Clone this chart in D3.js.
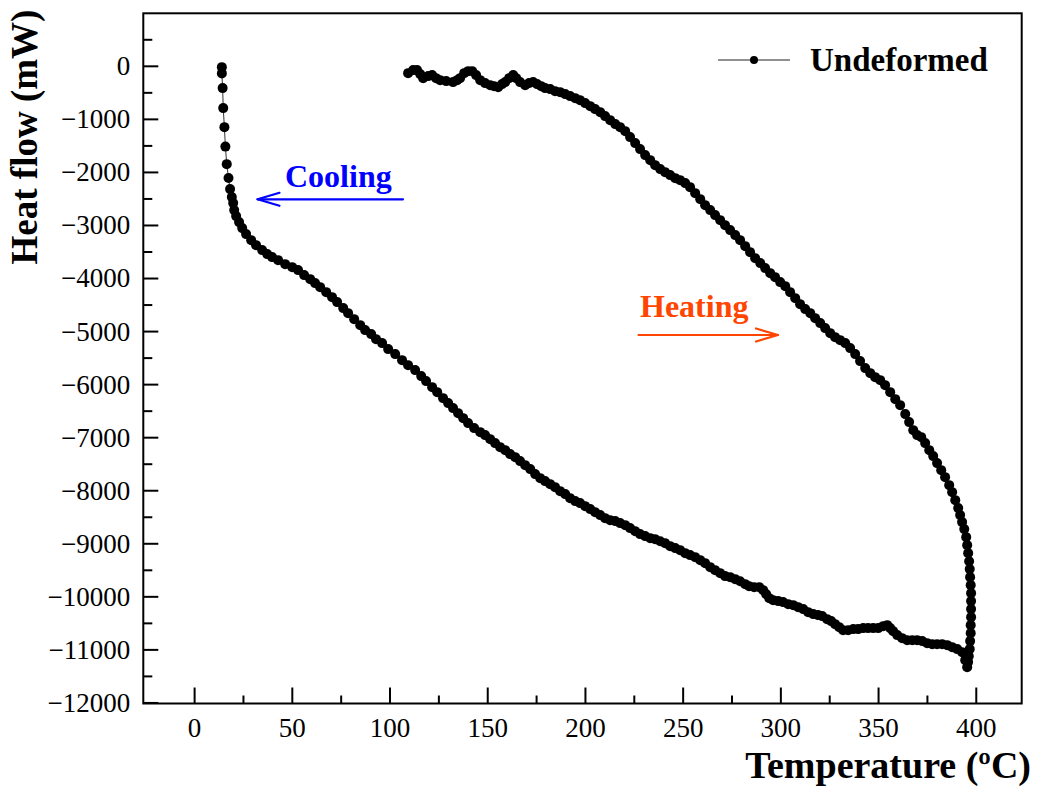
<!DOCTYPE html>
<html>
<head>
<meta charset="utf-8">
<script src="https://cdn.jsdelivr.net/npm/d3@7"></script>
<style>
  body { margin: 0; background: #fff; }
  svg { display: block; }
  text { font-family: "Liberation Serif", "Times New Roman", serif; }
</style>
</head>
<body>
<svg id="chart" width="1040" height="791"></svg>
<script>
// DSC run of the undeformed sample: heating segment followed by cooling segment
const temperature = [
  109.5,112.1,114.1,115.7,117.2,119.8,121.8,123.8,125.9,129.0,
  132.5,134.6,136.1,138.2,140.2,142.3,144.3,146.4,148.9,151.5,
  153.5,155.6,157.6,159.2,161.2,163.3,164.8,166.8,169.4,171.4,
  173.5,175.5,177.6,179.6,182.2,184.7,187.3,189.9,192.4,195.0,
  197.5,200.1,202.7,205.2,207.8,210.3,212.9,215.5,218.0,220.6,
  223.1,225.7,228.2,230.8,233.4,235.9,238.5,241.0,243.6,246.2,
  248.7,251.3,253.8,256.4,259.0,261.5,264.1,266.6,269.2,271.7,
  274.3,276.9,279.4,282.0,284.5,287.1,289.7,292.2,294.8,297.3,
  299.9,302.5,305.0,307.6,310.1,312.7,315.3,317.8,320.4,322.9,
  325.5,328.0,330.6,333.2,335.7,338.3,340.8,343.4,346.0,348.5,
  351.1,353.6,356.2,358.8,361.3,363.9,365.9,368.0,370.0,372.1,
  374.1,376.2,378.2,380.2,382.3,384.3,386.4,387.9,389.5,391.0,
  392.0,393.0,394.1,395.1,395.6,396.1,396.6,396.9,397.1,397.4,
  397.6,397.6,397.6,397.6,397.4,397.4,397.1,396.9,396.4,396.1,
  395.6,
  394.6,393.0,390.5,387.9,385.4,382.8,380.2,377.7,375.1,372.6,
  370.0,367.5,364.9,362.3,359.8,357.7,356.2,354.7,352.6,350.1,
  347.5,344.9,342.4,339.8,337.3,334.7,332.1,330.1,328.0,326.0,
  323.9,321.4,319.3,316.8,314.2,311.7,309.1,306.6,304.0,301.4,
  298.9,296.3,294.3,292.7,291.2,289.2,286.6,284.0,282.0,279.4,
  276.9,274.3,271.7,269.2,266.6,264.1,261.5,259.0,256.4,253.8,
  251.3,248.7,246.2,243.6,241.0,238.5,235.9,233.4,230.8,228.2,
  225.7,223.1,220.6,218.0,215.5,212.9,210.3,207.8,205.2,202.7,
  200.1,197.5,195.0,192.4,189.9,187.3,184.7,182.2,179.6,177.1,
  174.5,172.0,169.4,166.8,164.3,161.7,159.2,156.6,154.0,151.5,
  148.9,146.4,143.3,140.2,137.7,135.1,132.5,130.0,127.4,124.4,
  121.8,118.7,116.2,113.1,109.5,106.4,102.9,99.3,96.2,93.1,
  90.6,87.5,85.0,81.9,78.8,76.3,73.2,70.6,67.6,64.5,
  61.9,59.4,56.3,53.2,50.2,46.6,43.0,39.9,37.4,34.8,
  31.7,29.2,26.6,24.6,23.0,21.5,20.5,20.0,19.3,18.4,
  17.6,16.7,16.0,15.5,14.9,14.6,14.2,14.2
];

const heatFlow = [
  -138,-81,-81,-156,-232,-194,-175,-232,-270,-288,
  -307,-270,-232,-138,-100,-100,-175,-270,-326,-364,
  -383,-402,-345,-307,-232,-175,-232,-307,-364,-326,
  -307,-345,-383,-420,-439,-477,-496,-533,-571,-609,
  -647,-703,-760,-816,-873,-948,-1024,-1099,-1156,-1231,
  -1344,-1457,-1570,-1683,-1778,-1872,-1947,-2004,-2060,-2117,
  -2155,-2211,-2287,-2400,-2513,-2626,-2720,-2814,-2909,-3003,
  -3097,-3191,-3286,-3399,-3512,-3625,-3719,-3813,-3908,-3983,
  -4077,-4153,-4266,-4379,-4492,-4586,-4662,-4756,-4850,-4944,
  -5039,-5114,-5171,-5227,-5321,-5434,-5566,-5698,-5793,-5868,
  -5925,-6019,-6151,-6283,-6396,-6565,-6716,-6867,-6961,-6999,
  -7112,-7244,-7357,-7489,-7621,-7753,-7904,-8036,-8187,-8337,
  -8469,-8601,-8733,-8884,-9035,-9186,-9337,-9487,-9638,-9789,
  -9940,-10090,-10241,-10392,-10543,-10694,-10844,-10995,-11127,-11240,
  -11335,
  -11203,-11052,-10995,-10958,-10920,-10901,-10901,-10901,-10882,-10844,
  -10826,-10826,-10826,-10788,-10731,-10656,-10599,-10543,-10562,-10599,
  -10599,-10599,-10599,-10618,-10618,-10637,-10637,-10581,-10524,-10467,
  -10430,-10373,-10354,-10335,-10298,-10241,-10204,-10166,-10147,-10109,
  -10090,-10072,-10034,-9958,-9883,-9827,-9827,-9808,-9770,-9714,
  -9676,-9638,-9619,-9563,-9506,-9450,-9374,-9318,-9261,-9223,
  -9186,-9129,-9091,-9054,-8997,-8960,-8922,-8903,-8865,-8827,
  -8771,-8714,-8658,-8620,-8582,-8564,-8526,-8469,-8413,-8356,
  -8300,-8243,-8205,-8149,-8073,-8017,-7942,-7885,-7828,-7772,
  -7696,-7602,-7527,-7451,-7376,-7319,-7244,-7188,-7112,-7037,
  -6961,-6905,-6829,-6735,-6641,-6547,-6452,-6358,-6264,-6151,
  -6057,-5943,-5849,-5736,-5642,-5548,-5434,-5340,-5227,-5152,
  -5057,-4982,-4888,-4775,-4662,-4567,-4454,-4360,-4266,-4172,
  -4096,-4021,-3945,-3851,-3795,-3738,-3663,-3606,-3549,-3474,
  -3380,-3286,-3172,-3059,-2946,-2833,-2720,-2588,-2475,-2324,
  -2113,-1853,-1523,-1156,-797,-420,-143,-25
];

const xMajorTicks = [0, 50, 100, 150, 200, 250, 300, 350, 400];
const xMinorTicks = [25, 75, 125, 175, 225, 275, 325, 375];
const yMajorTicks = [-12000, -11000, -10000, -9000, -8000, -7000, -6000, -5000, -4000, -3000, -2000, -1000, 0];
const yMinorTicks = [-11500, -10500, -9500, -8500, -7500, -6500, -5500, -4500, -3500, -2500, -1500, -500, 500];

const seriesName = "Undeformed";
const xTitle = "Temperature (\u00BAC)";
const yTitle = "Heat flow (mW)";
const coolingLabel = "Cooling";
const heatingLabel = "Heating";

const serif = "Liberation Serif, Times New Roman, serif";
const points = temperature.map((t, i) => ({ t, h: heatFlow[i] }));

const svg = d3.select("#chart");
const plotLeft = 143.3, plotRight = 1021.7, plotTop = 13.3, plotBottom = 703.5;

const x = d3.scaleLinear().domain([-26, 423.5]).range([plotLeft, plotRight]);
const y = d3.scaleLinear().domain([-12020, 990]).range([plotBottom, plotTop]);

// frame
svg.append("rect")
  .attr("x", plotLeft).attr("y", plotTop)
  .attr("width", plotRight - plotLeft).attr("height", plotBottom - plotTop)
  .attr("fill", "none").attr("stroke", "#000").attr("stroke-width", 2);

// x axis: inward ticks
const gxMajor = svg.append("g").attr("transform", `translate(0,${plotBottom})`)
  .call(d3.axisBottom(x).tickValues(xMajorTicks).tickSize(-16).tickPadding(14).tickFormat(d3.format("d")));
const gxMinor = svg.append("g").attr("transform", `translate(0,${plotBottom})`)
  .call(d3.axisBottom(x).tickValues(xMinorTicks).tickSize(-8).tickFormat(""));

// y axis: inward ticks
const gyMajor = svg.append("g").attr("transform", `translate(${plotLeft},0)`)
  .call(d3.axisLeft(y).tickValues(yMajorTicks).tickSize(-15).tickPadding(13).tickFormat(d3.format("d")));
const gyMinor = svg.append("g").attr("transform", `translate(${plotLeft},0)`)
  .call(d3.axisLeft(y).tickValues(yMinorTicks).tickSize(-9).tickFormat(""));

[gxMajor, gxMinor, gyMajor, gyMinor].forEach(g => {
  g.attr("font-family", serif).attr("font-size", 27);
  g.select(".domain").remove();
  g.selectAll(".tick line").attr("stroke", "#000").attr("stroke-width", 2);
  g.selectAll(".tick text")
    .attr("fill", "#000")
    .attr("font-family", serif)
    .style("font-family", serif)
    .style("font-size", "27px");
});
gyMajor.selectAll(".tick text").attr("dy", "0.33em");

// axis titles
svg.append("text")
  .attr("x", 1031).attr("y", 778)
  .attr("text-anchor", "end")
  .style("font-size", "38px").style("font-weight", "bold")
  .text(xTitle);

svg.append("text")
  .attr("transform", "translate(37,137) rotate(-90)")
  .attr("text-anchor", "middle")
  .style("font-size", "37px").style("font-weight", "bold")
  .text(yTitle);

// series: thin connecting line with filled circle markers
const line = d3.line().x(d => x(d.t)).y(d => y(d.h));
svg.append("path")
  .datum(points)
  .attr("d", line)
  .attr("fill", "none")
  .attr("stroke", "#333")
  .attr("stroke-width", 1);

svg.append("g")
  .selectAll("circle")
  .data(points)
  .join("circle")
  .attr("cx", d => x(d.t))
  .attr("cy", d => y(d.h))
  .attr("r", 5)
  .attr("fill", "#000");

// legend
const legend = svg.append("g");
legend.append("line")
  .attr("x1", 718).attr("x2", 790).attr("y1", 60).attr("y2", 60)
  .attr("stroke", "#222").attr("stroke-width", 1.2);
legend.append("circle").attr("cx", 754).attr("cy", 60).attr("r", 4).attr("fill", "#000");
legend.append("text")
  .attr("x", 810).attr("y", 71)
  .style("font-size", "33px").style("font-weight", "bold")
  .text(seriesName);

// process direction annotations
function arrow(x1, x2, yy, color) {
  const dir = Math.sign(x2 - x1);
  const g = svg.append("g").attr("stroke", color).attr("fill", "none")
    .attr("stroke-width", 2.2).attr("stroke-linecap", "round").attr("stroke-linejoin", "round");
  g.append("line").attr("x1", x1).attr("x2", x2).attr("y1", yy).attr("y2", yy);
  g.append("path").attr("d",
    `M${x2 - dir * 22},${yy - 6.5} L${x2},${yy} L${x2 - dir * 22},${yy + 6.5}`);
}

svg.append("text")
  .attr("x", 285).attr("y", 187)
  .attr("fill", "#0000ff")
  .style("font-size", "32px").style("font-weight", "bold")
  .text(coolingLabel);
arrow(403, 257.5, 199.3, "#0000ff");

svg.append("text")
  .attr("x", 640).attr("y", 316.5)
  .attr("fill", "#ff4500")
  .style("font-size", "32px").style("font-weight", "bold")
  .text(heatingLabel);
arrow(638.5, 778, 335, "#ff4500");
</script>
</body>
</html>
